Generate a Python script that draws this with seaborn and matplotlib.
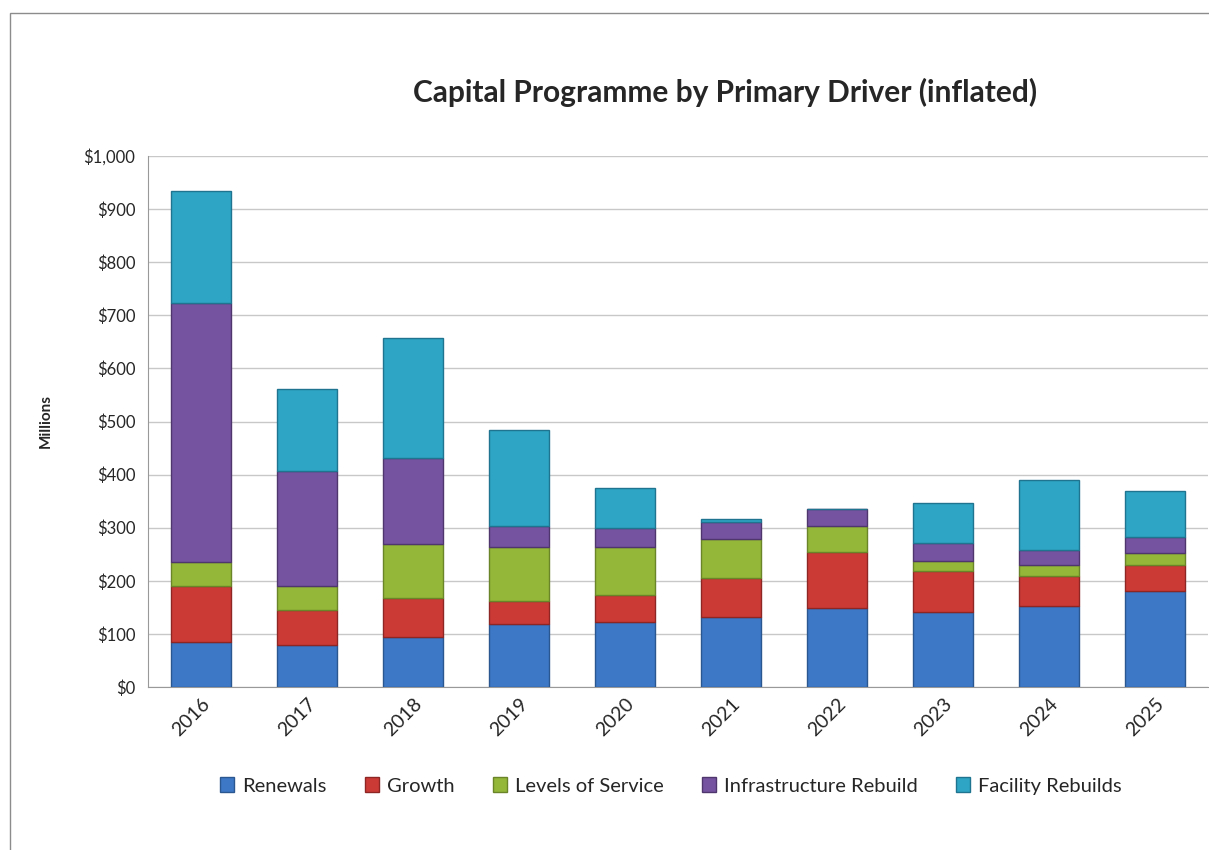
import numpy as np
import pandas as pd
import matplotlib
matplotlib.use("Agg")
import matplotlib.pyplot as plt
import seaborn as sns
from matplotlib.patches import Rectangle, Patch
from matplotlib.ticker import FuncFormatter, MultipleLocator

# data (millions of dollars)
years = ["2016", "2017", "2018", "2019", "2020", "2021", "2022", "2023", "2024", "2025"]
renewals = [84, 80, 95, 118, 122, 131, 148, 142, 152, 181]
growth = [107, 65, 72, 44, 52, 75, 107, 77, 57, 49]
levels_of_service = [44, 46, 103, 102, 90, 73, 49, 19, 21, 23]
infrastructure_rebuild = [489, 216, 161, 39, 35, 32, 32, 34, 28, 30]
facility_rebuilds = [211, 154, 226, 181, 75, 6, 0, 74, 132, 86]

series_names = ["Renewals", "Growth", "Levels of Service", "Infrastructure Rebuild", "Facility Rebuilds"]
series_vals = [renewals, growth, levels_of_service, infrastructure_rebuild, facility_rebuilds]
colors = ["#3D78C6", "#CC3A36", "#94B73A", "#7553A0", "#2FA5C5"]
edges = ["#2A578F", "#8E2624", "#6A8428", "#4F376E", "#1F7590"]

sns.set_style("white")
plt.rcParams["font.family"] = ["Lato", "DejaVu Sans"]

fig = plt.figure(figsize=(12.09, 8.5), dpi=100)
ax = fig.add_axes([148 / 1209, 1 - 687 / 850, 1060 / 1209, 531 / 850])

bottom = np.zeros(len(years))
for name, vals, c, ec in zip(series_names, series_vals, colors, edges):
    df = pd.DataFrame({"year": years, "value": vals})
    sns.barplot(data=df, x="year", y="value", color=c, bottom=bottom, width=0.57,
                edgecolor=ec, linewidth=1.0, saturation=1, ax=ax, zorder=3)
    bottom = bottom + np.array(vals)

ax.set_xlim(-0.5, len(years) - 0.5)
ax.set_ylim(0, 1000)
ax.yaxis.set_major_locator(MultipleLocator(100))
ax.yaxis.set_major_formatter(FuncFormatter(lambda v, p: f"${v:,.0f}"))
ax.grid(axis="y", color="#C8C8C8", linewidth=1.0, zorder=0)
ax.set_axisbelow(True)
for s in ["top", "right"]:
    ax.spines[s].set_visible(False)
ax.spines["left"].set_color("#999999")
ax.spines["bottom"].set_color("#999999")
ax.tick_params(axis="y", direction="out", length=5, color="#999999", labelsize=12, pad=4)
ax.tick_params(axis="x", length=0, labelsize=14, pad=6)
plt.setp(ax.get_xticklabels(), rotation=45, ha="right", rotation_mode="anchor")
ax.set_xlabel("")
ax.set_ylabel("Millions", fontsize=11, fontweight="bold", labelpad=22)

fig.text(725 / 1209, 1 - 92 / 850, "Capital Programme by Primary Driver (inflated)",
         ha="center", va="center", fontsize=21.5, fontweight="bold")

handles = [Patch(facecolor=c, edgecolor=ec) for c, ec in zip(colors, edges)]
fig.legend(handles, series_names, loc="center", bbox_to_anchor=(671 / 1209, 1 - 786 / 850),
           ncol=5, frameon=False, fontsize=14.5, handlelength=0.7, handleheight=0.7,
           handletextpad=0.4, columnspacing=1.9)

# outer chart frame (top and left edges visible)
fig.add_artist(Rectangle((10 / 1209, -0.05), 1.2, 1 - 13 / 850 + 0.05, transform=fig.transFigure,
                         fill=False, edgecolor="#8C8C8C", linewidth=1.0))

fig.savefig("out.png", dpi=100)
